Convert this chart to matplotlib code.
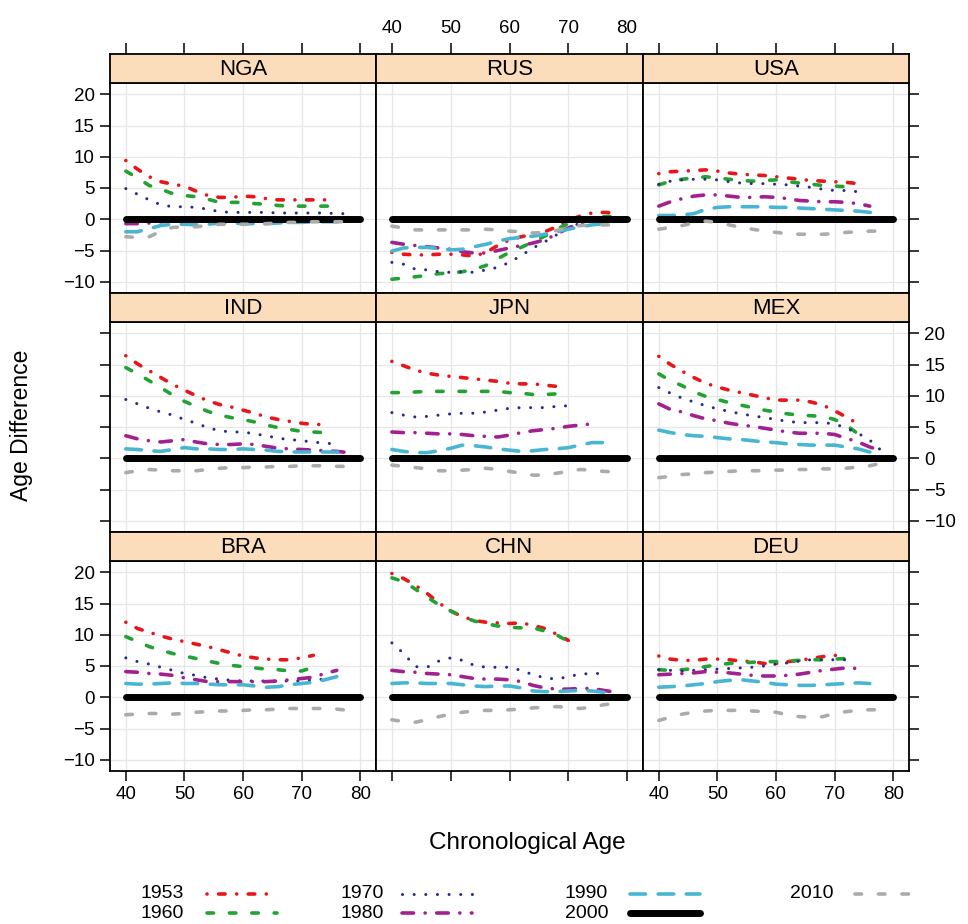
import matplotlib.pyplot as plt
from matplotlib.lines import Line2D

plt.rcParams['font.family'] = ['Liberation Sans', 'DejaVu Sans']

# ages every 2 years, series stop where the cohort runs out
AGES = [40, 42, 44, 46, 48, 50, 52, 54, 56, 58, 60, 62, 64, 66, 68, 70, 72, 74, 76, 78, 80]
COHORTS = [1953, 1960, 1970, 1980, 1990, 2000, 2010]
COUNTRIES = ['NGA', 'RUS', 'USA', 'IND', 'JPN', 'MEX', 'BRA', 'CHN', 'DEU']

# reference cohort (2000) is the zero line in every panel
REF_2000 = [0, 0, 0, 0, 0, 0, 0, 0, 0, 0, 0, 0, 0, 0, 0, 0, 0, 0, 0, 0, 0]

nga = {
    1953: [9.4, 8.0, 6.8, 6.0, 5.6, 5.3, 4.5, 3.8, 3.5, 3.5, 3.7, 3.6, 3.3, 3.1, 3.1, 3.1, 3.1, 3.1],
    1960: [7.7, 6.6, 5.4, 4.8, 4.1, 3.8, 3.6, 3.2, 2.7, 2.7, 2.7, 2.5, 2.4, 2.2, 2.1, 2.1, 2.1, 2.1, 2.1],
    1970: [4.9, 4.0, 3.1, 2.3, 2.0, 2.0, 1.9, 1.6, 1.2, 1.1, 1.1, 1.1, 1.1, 1.0, 1.0, 1.0, 1.0, 1.0, 0.9, 0.9],
    1980: [-0.7, -0.7, -0.6, -0.4, -0.2, -0.1, -0.1, -0.1, -0.1, -0.1, -0.1, -0.1, -0.1, -0.1, -0.1, -0.1, -0.1, -0.1, -0.1, -0.1],
    1990: [-2.0, -2.0, -1.5, -1.0, -0.8, -0.8, -0.9, -0.8, -0.6, -0.6, -0.7, -0.7, -0.7, -0.6, -0.5, -0.5, -0.4, -0.4, -0.4, -0.4],
    2010: [-2.8, -2.9, -2.8, -1.9, -1.3, -1.2, -1.2, -1.0, -0.8, -0.8, -0.8, -0.8, -0.7, -0.6, -0.5, -0.5, -0.4, -0.4, -0.4, -0.4],
}
rus = {
    1953: [-5.3, -5.6, -5.7, -5.7, -5.6, -5.6, -5.7, -5.9, -5.3, -4.2, -3.3, -2.8, -2.4, -2.0, -1.2, -0.2, 0.5, 1.0, 1.1, 1.0],
    1960: [-9.6, -9.4, -9.2, -9.0, -8.7, -8.6, -8.4, -8.0, -7.4, -6.3, -5.3, -4.5, -3.6, -2.7, -1.6, -0.7, 0.0, 0.2, 0.4, 0.5],
    1970: [-6.9, -7.2, -8.0, -8.1, -8.4, -8.5, -8.4, -8.5, -8.1, -7.7, -6.9, -5.8, -4.6, -3.6, -2.5, -1.5, -0.6, -0.1, 0.2, 0.3],
    1980: [-3.7, -4.0, -4.2, -4.4, -4.6, -4.8, -5.2, -5.4, -5.4, -5.0, -4.6, -4.2, -3.8, -3.3, -2.4, -1.4, -0.6, -0.3, 0.0],
    1990: [-5.1, -4.6, -4.5, -4.5, -4.7, -4.9, -4.8, -4.4, -4.0, -3.5, -3.1, -2.9, -2.7, -2.4, -2.0, -1.6, -1.2, -0.9, -0.7, -0.3],
    2010: [-1.1, -1.4, -1.7, -1.7, -1.7, -1.7, -1.7, -1.7, -1.6, -1.7, -1.9, -2.0, -2.2, -2.1, -1.8, -1.3, -1.0, -0.9, -0.9, -0.9],
}
usa = {
    1953: [7.3, 7.6, 7.7, 7.8, 7.9, 7.7, 7.4, 7.2, 7.1, 7.0, 6.8, 6.6, 6.4, 6.2, 6.1, 6.0, 5.9, 5.7],
    1960: [5.5, 6.1, 6.4, 6.6, 6.8, 6.6, 6.4, 6.2, 6.1, 6.2, 6.3, 6.0, 5.8, 5.6, 5.4, 5.3, 5.2, 5.1],
    1970: [5.6, 6.1, 6.3, 6.4, 6.4, 6.3, 6.0, 5.8, 5.7, 5.7, 5.6, 5.5, 5.3, 5.1, 4.8, 4.6, 4.6, 4.4],
    1980: [2.1, 2.8, 3.3, 3.7, 3.9, 3.9, 3.7, 3.5, 3.5, 3.6, 3.5, 3.3, 3.0, 2.9, 2.8, 2.8, 2.7, 2.5, 2.1],
    1990: [0.6, 0.6, 0.7, 0.9, 1.6, 1.9, 2.0, 2.0, 2.0, 2.0, 1.9, 1.9, 1.8, 1.7, 1.6, 1.5, 1.4, 1.3, 1.1, 0.8],
    2010: [-1.6, -1.3, -1.0, -0.6, -0.3, -0.5, -0.9, -1.3, -1.6, -1.9, -2.1, -2.3, -2.4, -2.4, -2.4, -2.3, -2.1, -2.0, -1.9, -1.9],
}
ind = {
    1953: [16.4, 15.1, 14.0, 12.9, 11.8, 10.9, 10.0, 9.2, 8.6, 8.2, 7.7, 7.2, 6.6, 6.2, 5.9, 5.6, 5.4, 5.4],
    1960: [14.5, 13.5, 12.4, 11.3, 10.1, 9.1, 8.3, 7.5, 6.9, 6.5, 6.2, 5.8, 5.3, 4.9, 4.6, 4.3, 4.2, 4.1],
    1970: [9.4, 8.7, 8.0, 7.4, 6.9, 6.2, 5.6, 4.9, 4.4, 4.2, 4.2, 3.9, 3.6, 3.2, 3.0, 2.8, 2.6, 2.4, 2.3],
    1980: [3.6, 3.1, 2.8, 2.6, 2.8, 3.0, 2.6, 2.3, 2.2, 2.2, 2.3, 2.2, 1.9, 1.6, 1.5, 1.4, 1.3, 1.2, 1.1, 0.9],
    1990: [1.5, 1.4, 1.2, 1.1, 1.4, 1.7, 1.5, 1.5, 1.4, 1.4, 1.5, 1.4, 1.3, 1.1, 1.0, 1.0, 1.0, 1.0, 1.0, 0.9],
    2010: [-2.3, -2.0, -1.8, -1.9, -2.0, -2.0, -2.0, -1.8, -1.6, -1.5, -1.5, -1.4, -1.4, -1.3, -1.3, -1.2, -1.2, -1.2, -1.3, -1.3],
}
jpn = {
    1953: [15.5, 14.8, 14.1, 13.6, 13.3, 13.1, 12.9, 12.7, 12.5, 12.3, 12.0, 11.9, 11.9, 11.7, 11.5],
    1960: [10.5, 10.5, 10.6, 10.7, 10.7, 10.7, 10.7, 10.7, 10.7, 10.7, 10.5, 10.4, 10.2, 10.2, 10.3],
    1970: [7.3, 6.9, 6.6, 6.7, 6.9, 7.1, 7.2, 7.2, 7.4, 7.7, 8.0, 8.1, 8.1, 8.1, 8.3, 8.4],
    1980: [4.2, 4.1, 4.1, 4.0, 3.9, 3.9, 3.8, 3.6, 3.5, 3.4, 3.7, 4.1, 4.4, 4.6, 4.8, 5.1, 5.3, 5.5],
    1990: [1.4, 1.1, 0.9, 0.9, 1.2, 1.6, 2.1, 2.0, 1.8, 1.5, 1.3, 1.1, 1.2, 1.4, 1.5, 1.7, 2.1, 2.5, 2.5],
    2010: [-1.1, -1.3, -1.5, -1.7, -2.0, -2.0, -1.9, -1.8, -1.6, -1.8, -2.1, -2.4, -2.7, -2.7, -2.4, -2.1, -1.8, -1.9, -2.1, -2.2],
}
mex = {
    1953: [16.3, 15.0, 13.9, 12.9, 12.0, 11.4, 10.9, 10.5, 10.1, 9.7, 9.3, 9.3, 9.3, 9.0, 8.5, 7.6, 6.6, 5.5],
    1960: [13.5, 12.4, 11.6, 10.6, 9.9, 9.4, 8.9, 8.5, 8.1, 7.7, 7.4, 7.1, 6.9, 6.8, 6.7, 6.2, 5.3, 3.9],
    1970: [11.3, 10.4, 9.6, 9.0, 8.4, 7.9, 7.5, 7.1, 6.8, 6.5, 6.2, 5.9, 5.7, 5.7, 5.7, 5.5, 4.8, 4.0, 2.9, 1.2],
    1980: [8.7, 7.8, 7.4, 6.8, 6.3, 6.0, 5.6, 5.3, 5.1, 4.8, 4.5, 4.2, 4.0, 4.0, 4.0, 3.8, 3.2, 2.6, 1.8, 1.2],
    1990: [4.5, 4.1, 3.8, 3.6, 3.5, 3.3, 3.1, 3.0, 2.8, 2.6, 2.5, 2.3, 2.2, 2.1, 2.1, 2.1, 1.8, 1.5, 1.0, 0.6],
    2010: [-3.1, -2.9, -2.6, -2.5, -2.3, -2.2, -2.1, -2.0, -2.0, -2.0, -1.9, -1.9, -1.8, -1.8, -1.7, -1.7, -1.6, -1.4, -1.2, -0.8],
}
bra = {
    1953: [12.0, 11.0, 10.4, 9.8, 9.3, 8.9, 8.5, 8.1, 7.6, 7.1, 6.6, 6.3, 6.1, 6.0, 6.0, 6.3, 6.7],
    1960: [9.7, 8.9, 8.1, 7.5, 7.0, 6.6, 6.2, 5.8, 5.4, 5.1, 4.9, 4.7, 4.5, 4.4, 4.2, 4.2, 4.8],
    1970: [6.3, 5.7, 5.3, 4.8, 4.3, 3.8, 3.5, 3.1, 2.9, 2.7, 2.6, 2.6, 2.6, 2.6, 2.6, 2.6, 2.8, 2.9, 3.3],
    1980: [4.1, 4.0, 3.8, 3.7, 3.5, 3.1, 2.8, 2.5, 2.5, 2.5, 2.5, 2.5, 2.5, 2.6, 2.8, 3.0, 3.2, 3.8, 4.3],
    1990: [2.2, 2.1, 2.1, 2.2, 2.3, 2.2, 2.2, 2.1, 2.0, 2.0, 2.0, 1.8, 1.6, 1.7, 2.0, 2.2, 2.4, 2.8, 3.3],
    2010: [-2.8, -2.7, -2.6, -2.6, -2.7, -2.6, -2.4, -2.3, -2.2, -2.2, -2.1, -2.0, -2.0, -1.9, -1.8, -1.8, -1.8, -1.8, -1.9, -2.1],
}
chn = {
    1953: [19.8, 19.0, 17.9, 16.6, 15.1, 13.8, 12.9, 12.3, 12.0, 11.9, 11.8, 11.9, 11.5, 11.0, 10.1, 9.1],
    1960: [19.1, 18.5, 17.3, 16.0, 14.8, 13.8, 12.9, 12.2, 11.8, 11.4, 11.2, 11.1, 11.1, 10.6, 10.0, 8.9],
    1970: [8.7, 7.0, 4.9, 4.8, 5.8, 6.3, 5.9, 5.1, 4.8, 4.8, 4.8, 4.3, 3.6, 3.1, 2.9, 3.3, 3.7, 3.8, 3.8],
    1980: [4.3, 4.1, 4.0, 3.8, 3.7, 3.6, 3.3, 3.0, 2.9, 2.9, 2.8, 2.5, 1.9, 1.5, 1.3, 1.3, 1.4, 1.4, 1.1, 0.8],
    1990: [2.2, 2.3, 2.3, 2.2, 2.2, 2.2, 2.0, 1.8, 1.7, 1.8, 1.8, 1.5, 1.0, 0.9, 0.9, 1.0, 1.1, 1.0, 0.8, 0.6],
    2010: [-3.6, -3.9, -4.0, -3.6, -3.1, -2.7, -2.4, -2.2, -2.1, -2.1, -2.0, -1.9, -1.7, -1.6, -1.5, -1.6, -1.8, -1.6, -1.2, -1.0],
}
deu = {
    1953: [6.6, 6.1, 5.9, 5.9, 6.1, 6.1, 6.0, 5.8, 5.7, 5.4, 5.4, 5.7, 5.9, 6.2, 6.5, 6.7, 6.6],
    1960: [4.4, 4.3, 4.4, 4.6, 4.9, 5.2, 5.4, 5.5, 5.6, 5.7, 5.7, 5.8, 5.9, 6.0, 6.0, 6.1, 6.2, 6.1],
    1970: [4.4, 4.3, 4.2, 4.3, 4.4, 4.5, 4.6, 4.7, 4.8, 5.0, 5.3, 5.5, 5.8, 6.0, 6.0, 6.0, 6.0],
    1980: [3.6, 3.7, 3.8, 3.9, 4.1, 4.0, 3.9, 3.7, 3.5, 3.4, 3.4, 3.5, 3.7, 4.0, 4.3, 4.5, 4.7, 4.6],
    1990: [1.6, 1.7, 1.8, 2.0, 2.2, 2.5, 2.7, 2.8, 2.6, 2.4, 2.1, 2.0, 1.9, 1.9, 2.0, 2.1, 2.2, 2.3, 2.2],
    2010: [-3.7, -3.2, -2.7, -2.4, -2.2, -2.1, -2.1, -2.1, -2.2, -2.3, -2.4, -2.8, -3.1, -3.2, -3.1, -2.6, -2.3, -2.1, -2.0, -2.0],
}
panel_data = {'NGA': nga, 'RUS': rus, 'USA': usa, 'IND': ind, 'JPN': jpn, 'MEX': mex,
              'BRA': bra, 'CHN': chn, 'DEU': deu}

# line styles per cohort (dash lengths are in units of line width)
styles = {
    1953: dict(color='#E8161B', lw=2.6, ls=(0, (0.01, 3.2, 1.8, 3.2))),
    1960: dict(color='#22A233', lw=2.6, ls=(0, (1.8, 4.4))),
    1970: dict(color='#2B2A8C', lw=2.2, ls=(0, (0.01, 3.8))),
    1980: dict(color='#A3208F', lw=2.6, ls=(0, (3.2, 3.2, 0.01, 3.2))),
    1990: dict(color='#48B6D2', lw=2.6, ls=(0, (4.3, 3.5))),
    2000: dict(color='black', lw=5.0, ls='-'),
    2010: dict(color='#ABABAB', lw=2.6, ls=(0, (1.8, 4.7))),
}

W, H = 968, 924
COL_EDGES = [110, 376, 643, 909]
ROW_EDGES = [83, 293, 322, 532, 561, 771]   # panel top/bottom per row
STRIP_H = 29
XLIM = (37.3, 82.7)
YLIM = (-11.8, 21.8)
XT = [40, 50, 60, 70, 80]
YT = [-10, -5, 0, 5, 10, 15, 20]

fig = plt.figure(figsize=(W / 100, H / 100), dpi=100)

for i, c in enumerate(COUNTRIES):
    r, k = divmod(i, 3)
    x0, x1 = COL_EDGES[k], COL_EDGES[k + 1]
    top, bot = ROW_EDGES[2 * r], ROW_EDGES[2 * r + 1]
    ax = fig.add_axes([x0 / W, 1 - bot / H, (x1 - x0) / W, (bot - top) / H])
    st = fig.add_axes([x0 / W, 1 - top / H, (x1 - x0) / W, STRIP_H / H])

    d = panel_data[c]
    for yr in COHORTS:
        vals = REF_2000 if yr == 2000 else d[yr]
        s = styles[yr]
        ax.plot(AGES[:len(vals)], vals, color=s['color'], lw=s['lw'], linestyle=s['ls'],
                dash_capstyle='round', solid_capstyle='round')

    ax.set_xlim(XLIM)
    ax.set_ylim(YLIM)
    ax.set_xticks(XT)
    ax.set_yticks(YT)
    ax.grid(color='#e6e6e6', lw=0.9)
    ax.set_axisbelow(True)
    ax.tick_params(direction='out', length=7, width=1.1, labelsize=13.5, pad=4,
                   left=(k == 0), right=(k == 2), bottom=(r == 2), top=False,
                   labelleft=(k == 0 and r != 1), labelright=(k == 2 and r == 1),
                   labelbottom=(r == 2 and k != 1), labeltop=False)
    for sp in ax.spines.values():
        sp.set_linewidth(1.3)

    # strip with country code
    st.set_facecolor('#FBDDBB')
    st.set_xlim(XLIM)
    st.set_xticks(XT)
    st.set_yticks([])
    st.tick_params(direction='out', length=8, width=1.1, labelsize=13.5, pad=4,
                   top=(r == 0), bottom=False, labeltop=(r == 0 and k == 1), labelbottom=False)
    for sp in st.spines.values():
        sp.set_linewidth(1.3)
    st.text(0.5, 0.45, c, transform=st.transAxes, ha='center', va='center', fontsize=16)

fig.text(22 / W, 1 - 425 / H, 'Age Difference', rotation=90, ha='center', va='center', fontsize=16.5)
fig.text(527 / W, 1 - 843 / H, 'Chronological Age', ha='center', va='center', fontsize=17.5)

# legend drawn by hand: 4 columns, text then line sample
leg_col = [0, 0, 1, 1, 2, 2, 3]
leg_row = [0, 1, 0, 1, 0, 1, 0]
col_text_x = [141, 340, 565, 790]
col_line_x = [207, 402, 630, 855]
row_y = [894, 913]
for yr, cc, rr in zip(COHORTS, leg_col, leg_row):
    s = styles[yr]
    y = 1 - row_y[rr] / H
    fig.text(col_text_x[cc] / W, y, str(yr), ha='left', va='center', fontsize=14)
    fig.add_artist(Line2D([col_line_x[cc] / W, (col_line_x[cc] + 70) / W], [y, y],
                          transform=fig.transFigure, color=s['color'], lw=s['lw'],
                          linestyle=s['ls'], dash_capstyle='round', solid_capstyle='round'))

fig.savefig('out.png', dpi=100)
